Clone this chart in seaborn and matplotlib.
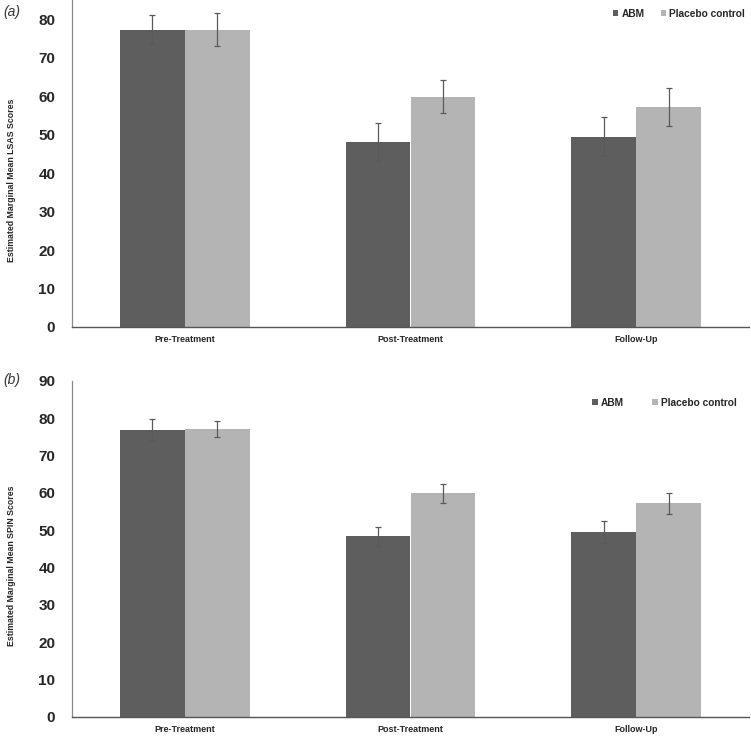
import pandas as pd
import numpy as np
import matplotlib
matplotlib.use('Agg')
import matplotlib.pyplot as plt
import seaborn as sns

# data
phases = ['Pre-Treatment', 'Post-Treatment', 'Follow-Up']
groups = ['ABM', 'Placebo control']

lsas_abm = [77.3, 48.1, 49.5]
lsas_placebo = [77.3, 59.9, 57.2]
lsas_abm_err = [3.8, 5.0, 5.1]
lsas_placebo_err = [4.3, 4.2, 5.0]

spin_abm = [77.0, 48.4, 49.5]
spin_placebo = [77.2, 59.9, 57.2]
spin_abm_err = [2.7, 2.5, 3.0]
spin_placebo_err = [2.2, 2.6, 2.7]

colors = ['#5e5e5e', '#b4b4b4']

sns.set_style('white')
plt.rcParams['font.family'] = ['Liberation Sans', 'DejaVu Sans']


def draw_panel(ax, abm, placebo, abm_err, placebo_err, ymax, yticks, ylabel,
               leg_anchor, colspace):
    df = pd.DataFrame({
        'phase': phases * 2,
        'group': [groups[0]] * 3 + [groups[1]] * 3,
        'score': abm + placebo,
    })
    sns.barplot(data=df, x='phase', y='score', hue='group', order=phases,
                hue_order=groups, palette=colors, width=0.574,
                errorbar=None, saturation=1, linewidth=0, ax=ax)
    # error bars on the bar centres seaborn placed
    for cont, err in zip(ax.containers, [abm_err, placebo_err]):
        xs = [b.get_x() + b.get_width() / 2 for b in cont]
        ys = [b.get_height() for b in cont]
        ax.errorbar(xs, ys, yerr=err, fmt='none', ecolor='#5a5a5a',
                    elinewidth=0.9, capsize=2.5, capthick=0.9, zorder=5)

    ax.set_ylim(0, ymax)
    ax.set_xlim(-0.5, 2.5)
    ax.set_yticks(yticks)
    ax.set_yticklabels([str(t) for t in yticks], fontsize=11, fontweight='bold')
    ax.set_xticks(range(3))
    ax.set_xticklabels(phases, fontsize=6.5, fontweight='bold')
    ax.tick_params(axis='both', length=0, pad=12)
    ax.tick_params(axis='x', pad=6)
    ax.set_xlabel('')
    ax.set_ylabel(ylabel, fontsize=6.3, fontweight='bold')
    ax.yaxis.set_label_coords(-0.082, 0.45)
    sns.despine(ax=ax)
    ax.spines['left'].set_color('#8a8a8a')
    ax.spines['left'].set_linewidth(0.9)
    ax.spines['bottom'].set_color('#555555')
    ax.spines['bottom'].set_linewidth(1.0)

    ax.legend(loc='upper right', bbox_to_anchor=leg_anchor, ncol=2, frameon=False,
              prop={'weight': 'bold', 'size': 7.3},
              handlelength=0.55, handleheight=0.55, handletextpad=0.3,
              columnspacing=colspace, borderaxespad=0)


fig = plt.figure(figsize=(7.51, 7.37), dpi=100)
ax1 = fig.add_axes([72 / 751, (737 - 327) / 737, (749 - 72) / 751, 327 / 737])
ax2 = fig.add_axes([72 / 751, (737 - 717) / 737, (749 - 72) / 751, (717 - 381) / 737])

draw_panel(ax1, lsas_abm, lsas_placebo, lsas_abm_err, lsas_placebo_err,
           85, list(range(0, 81, 10)), 'Estimated Marginal Mean LSAS Scores',
           (1.0, 0.985), 1.6)
draw_panel(ax2, spin_abm, spin_placebo, spin_abm_err, spin_placebo_err,
           90, list(range(0, 91, 10)), 'Estimated Marginal Mean SPIN Scores',
           (0.988, 0.962), 2.8)

fig.text(3 / 751, 1 - 5 / 737, '(a)', fontsize=10, fontstyle='italic',
         va='top', ha='left', color='#333333')
fig.text(3 / 751, 1 - 373 / 737, '(b)', fontsize=10, fontstyle='italic',
         va='top', ha='left', color='#333333')

fig.savefig('out.png', dpi=100)
